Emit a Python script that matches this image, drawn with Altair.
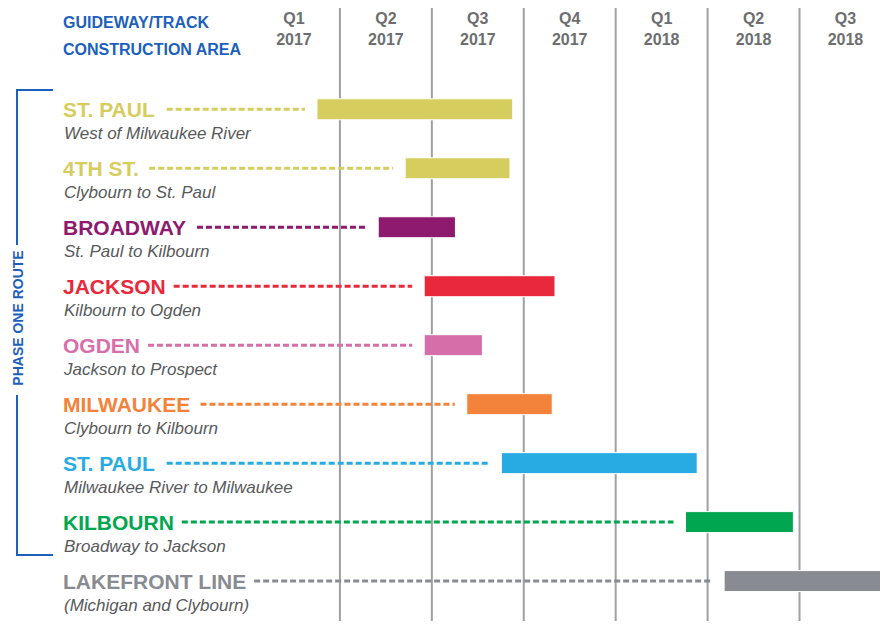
import altair as alt
import pandas as pd

# ---------------- data ----------------
ROW_LABELS = ["ST. PAUL", "4TH ST.", "BROADWAY", "JACKSON", "OGDEN",
              "MILWAUKEE", "ST. PAUL", "KILBOURN", "LAKEFRONT LINE"]
ROW_SUBTITLES = ["West of Milwaukee River", "Clybourn to St. Paul",
                 "St. Paul to Kilbourn", "Kilbourn to Ogden",
                 "Jackson to Prospect", "Clybourn to Kilbourn",
                 "Milwaukee River to Milwaukee", "Broadway to Jackson",
                 "(Michigan and Clybourn)"]
# construction window, in months after 1 Jan 2017
BAR_START = [2.25, 5.13, 4.25, 5.75, 5.75, 7.14, 8.27, 14.28, 15.54]
BAR_END = [8.64, 8.55, 6.77, 10.02, 7.65, 9.93, 14.66, 17.80, 21.0]
ROW_COLORS = ["#d6cd5f", "#d6cd5f", "#8e1a6e", "#e8293c", "#d66fa9",
              "#f3823a", "#27abe2", "#00a650", "#888b91"]
QUARTERS = ["Q1", "Q2", "Q3", "Q4", "Q1", "Q2", "Q3"]
YEARS = ["2017", "2017", "2017", "2017", "2018", "2018", "2018"]
QUARTER_BOUNDS = [3, 6, 9, 12, 15, 18]

# ---------------- layout ----------------
W, H = 872, 613
XMIN, XMAX = -7.833, 20.627
YMIN, YMAX = -1.633, 8.592
LABEL_X = 55
LABEL_SIZE = 21
BLUE = "#1c5fbd"
SANS = "Liberation Sans, Arial, Helvetica, sans-serif"

# Arial/Liberation Sans Bold advance widths (per 1000 em) to place leader lines
BOLD_W = dict(zip("ABCDEFGHIJKLMNOPQRSTUVWXYZ",
                  [722, 722, 722, 722, 667, 611, 778, 722, 278, 556, 722, 611, 833,
                   722, 778, 667, 778, 722, 667, 611, 722, 667, 944, 667, 667, 611]))
BOLD_W.update({" ": 278, ".": 278})
BOLD_W.update({d: 556 for d in "0123456789"})


def text_px(s, size):
    return sum(BOLD_W.get(c, 600) for c in s) * size / 1000.0


def px_to_month(px):
    return XMIN + px * (XMAX - XMIN) / W


ids = [f"r{i}" for i in range(len(ROW_LABELS))]
rows = pd.DataFrame({
    "id": ids,
    "row": list(range(len(ROW_LABELS))),
    "label": ROW_LABELS,
    "sub": ROW_SUBTITLES,
    "start": BAR_START,
    "end": BAR_END,
})
rows["lead"] = [px_to_month(LABEL_X + text_px(l, LABEL_SIZE) + 8) for l in ROW_LABELS]

qdf = pd.DataFrame({"q": QUARTERS, "yr": YEARS,
                    "mid": [1.5 + 3 * i for i in range(len(QUARTERS))]})
gdf = pd.DataFrame({"m": QUARTER_BOUNDS})
one = pd.DataFrame({"a": [0]})

xs = alt.Scale(domain=[XMIN, XMAX], nice=False, zero=False)
ys = alt.Scale(domain=[YMIN, YMAX], nice=False, zero=False, reverse=True)
color = alt.Color("id:N", scale=alt.Scale(domain=ids, range=ROW_COLORS), legend=None)
Y = alt.Y("row:Q", scale=ys, axis=None)

grid = alt.Chart(gdf).mark_rule(color="#9fa0a4", strokeWidth=2).encode(
    x=alt.X("m:Q", scale=xs, axis=None), y=alt.value(0), y2=alt.value(H))

leaders = alt.Chart(rows).mark_rule(strokeDash=[6, 3], strokeWidth=3, x2Offset=-12).encode(
    x=alt.X("lead:Q", scale=xs, axis=None), x2="start:Q", y=Y, color=color)

bars = alt.Chart(rows).mark_bar(height=21, stroke="white", strokeWidth=1, clip=True).encode(
    x=alt.X("start:Q", scale=xs, axis=None), x2="end:Q", y=Y, color=color)

labels = alt.Chart(rows).mark_text(align="left", baseline="alphabetic", dy=7.5,
                                   fontSize=LABEL_SIZE, fontWeight="bold", font=SANS).encode(
    x=alt.value(LABEL_X), y=Y, text="label:N", color=color)

subs = alt.Chart(rows).mark_text(align="left", baseline="alphabetic", dy=30,
                                 fontSize=17, fontStyle="italic", font=SANS,
                                 color="#58595b").encode(
    x=alt.value(LABEL_X + 1), y=Y, text="sub:N")

qtext = alt.Chart(qdf).mark_text(align="center", baseline="alphabetic", fontSize=16,
                                 fontWeight="bold", font=SANS, color="#6d6e71").encode(
    x=alt.X("mid:Q", scale=xs, axis=None), y=alt.value(15.5), text="q:N")
ytext = alt.Chart(qdf).mark_text(align="center", baseline="alphabetic", fontSize=16,
                                 fontWeight="bold", font=SANS, color="#6d6e71").encode(
    x=alt.X("mid:Q", scale=xs, axis=None), y=alt.value(37), text="yr:N")

header = alt.Chart(one).mark_text(align="left", baseline="alphabetic", fontSize=16,
                                  fontWeight="bold", font=SANS, color=BLUE,
                                  text="GUIDEWAY/TRACK\nCONSTRUCTION AREA",
                                  lineBreak="\n", lineHeight=27).encode(
    x=alt.value(LABEL_X), y=alt.value(20))

br_top = alt.Chart(one).mark_rule(color=BLUE, strokeWidth=2).encode(
    x=alt.value(9), y=alt.value(82), y2=alt.value(237))
br_bot = alt.Chart(one).mark_rule(color=BLUE, strokeWidth=2).encode(
    x=alt.value(9), y=alt.value(387), y2=alt.value(547))
tick_top = alt.Chart(one).mark_rule(color=BLUE, strokeWidth=2).encode(
    x=alt.value(8), x2=alt.value(45), y=alt.value(82))
tick_bot = alt.Chart(one).mark_rule(color=BLUE, strokeWidth=2).encode(
    x=alt.value(8), x2=alt.value(45), y=alt.value(547))
phase = alt.Chart(one).mark_text(angle=270, align="center", baseline="middle", fontSize=14,
                                 fontWeight="bold", font=SANS, color=BLUE,
                                 text="PHASE ONE ROUTE").encode(
    x=alt.value(11), y=alt.value(310))

chart = alt.layer(grid, leaders, bars, labels, subs, qtext, ytext, header,
                  br_top, br_bot, tick_top, tick_bot, phase).properties(
    width=W, height=H, autosize="none", padding=0
).configure_view(stroke=None)

chart.save("out.html", embed_options={"renderer": "svg", "actions": False})
